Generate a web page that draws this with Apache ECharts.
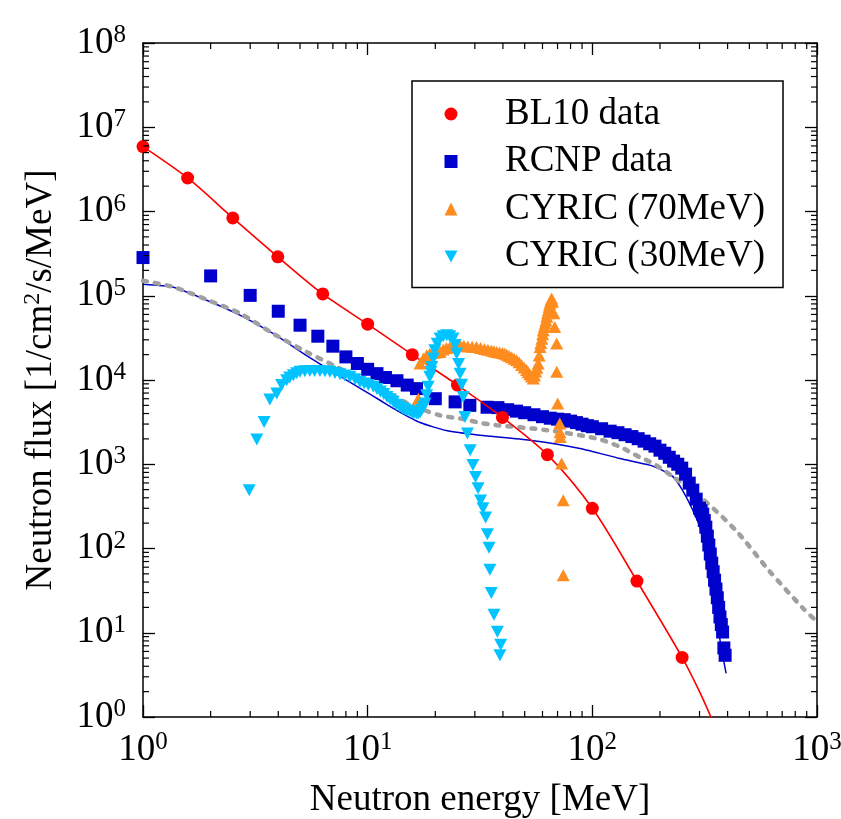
<!DOCTYPE html>
<html>
<head>
<meta charset="utf-8">
<script src="https://cdn.jsdelivr.net/npm/echarts@6/dist/echarts.min.js"></script>
<style>
  html, body { margin: 0; padding: 0; background: #ffffff; }
  #chart { width: 841px; height: 819px; }
</style>
</head>
<body>
<div id="chart"></div>
<script>
// ---- Measured spectra (energy in MeV, flux in 1/cm^2/s/MeV) ----
const bl10Energy = [1, 1.58, 2.51, 3.98, 6.31, 10, 15.8, 25.1, 39.8, 63.1, 100, 158, 251];
const bl10Flux   = [5.9e6, 2.5e6, 8.4e5, 2.9e5, 1.05e5, 4.6e4, 2.0e4, 8.7e3, 3.6e3, 1.3e3, 300, 41, 5.1];

// fitted curve through the BL10 points, running on to the lower edge
const bl10FitEnergy = [1, 1.58, 2.51, 3.98, 6.31, 10, 15.8, 25.1, 39.8, 63.1, 100, 158, 251, 300, 340];
const bl10FitFlux   = [5.9e6, 2.5e6, 8.4e5, 2.9e5, 1.05e5, 4.6e4, 2.0e4, 8.7e3, 3.6e3, 1.3e3, 300, 41, 5.1, 2.0, 0.95];

const rcnpEnergy = [1, 2, 3, 4, 5, 6, 7, 8, 9, 10, 11, 12, 13.5, 15, 16.5, 20, 24.5, 28.5, 34, 38,
  42, 46, 50, 55, 60, 65, 70, 75, 80, 85, 90, 95, 100, 110, 120, 130, 140, 150, 160, 170, 180, 190,
  200, 210, 220, 230, 240, 250, 260, 270, 280, 290, 300, 305, 310, 315, 320, 325, 330, 335, 340, 345,
  350, 355, 360, 365, 370, 375, 380, 385, 390];
const rcnpFlux = [2.84e5, 1.72e5, 1.01e5, 6.55e4, 4.47e4, 3.31e4, 2.52e4, 1.88e4, 1.57e4, 1.34e4, 1.19e4,
  1.07e4, 9.8e3, 8.7e3, 7.9e3, 6.0e3, 5.5e3, 5.0e3, 4.75e3, 4.7e3,
  4.44e3, 4.27e3, 4.09e3, 3.87e3, 3.67e3, 3.52e3, 3.43e3, 3.38e3, 3.25e3, 3.12e3, 2.99e3, 2.87e3, 2.79e3,
  2.64e3, 2.47e3, 2.37e3, 2.24e3, 2.13e3, 2.01e3, 1.88e3, 1.75e3, 1.64e3,
  1.47e3, 1.35e3, 1.21e3, 1.09e3, 1.0e3, 900, 763, 597, 493, 385, 301, 280, 256, 215, 179, 140, 110, 86, 67, 53,
  42, 33, 26, 20, 15.4, 12.5, 10.2, 6.6, 5.4];

const cyric70Energy = [16.8, 17.1, 17.7, 18.3, 18.9, 19.5, 20.2, 21.0, 21.7, 22.4, 23.2, 24.0, 24.9, 25.8,
  26.8, 27.9, 29.2, 30.5, 31.8, 33.1, 34.3, 35.5, 36.5, 37.5, 38.6, 39.8, 40.7, 41.6, 42.6, 43.7, 44.8,
  46.0, 47.2, 48.4, 49.7, 51.0, 51.8, 52.7, 53.6, 54.6, 55.3, 56.0, 56.7, 57.4, 58.0, 58.5, 59.0, 59.6,
  60.1, 60.5, 61.1, 61.7, 62.2, 62.7, 63.2, 63.7, 64.2, 64.7, 65.3, 65.9, 66.5, 67.4, 68.0, 69.4, 69.4,
  70.1, 71.6, 71.8, 72.0, 73.0, 74.2, 74.2];
const cyric70Flux = [6.0e3, 1.57e4, 1.8e4, 1.97e4, 2.05e4, 2.09e4, 2.12e4, 2.15e4, 2.3e4, 2.4e4, 2.45e4, 2.5e4,
  2.55e4, 2.59e4, 2.55e4, 2.5e4, 2.48e4, 2.47e4, 2.4e4, 2.34e4, 2.29e4, 2.24e4, 2.2e4, 2.15e4, 2.12e4, 2.09e4,
  2.05e4, 2.0e4, 1.93e4, 1.86e4, 1.79e4, 1.72e4, 1.62e4, 1.51e4, 1.41e4, 1.31e4, 1.24e4, 1.17e4, 1.1e4, 1.04e4,
  1.13e4, 1.26e4, 1.4e4, 1.57e4, 1.95e4, 2.47e4, 2.75e4, 3.09e4, 3.5e4, 3.89e4, 4.3e4, 4.68e4, 5.1e4, 5.62e4,
  6.2e4, 6.76e4, 7.4e4, 8.07e4, 8.7e4, 9.27e4, 8.5e4, 6.2e4, 4.27e4, 2.71e4, 1.25e4,
  5.25e3, 3.05e3, 2.4e3, 2.1e3, 1.02e3, 375, 48];

const cyric30Energy = [2.97, 3.21, 3.46, 3.67, 3.94, 4.14, 4.36, 4.5, 4.67, 4.83, 5.0, 5.25, 5.53, 5.8, 6.13,
  6.45, 6.79, 7.15, 7.53, 7.9, 8.34, 8.8, 9.24, 9.65, 10.07, 10.6, 11.0, 11.4, 11.8, 12.2, 12.6, 13.0, 13.4,
  13.9, 14.3, 14.6, 15.0, 15.4, 15.8, 16.1, 16.5, 16.8, 17.1, 17.4, 17.7, 18.0, 18.3, 18.6, 18.9, 19.1, 19.3,
  19.6, 19.9, 20.4, 21.0, 21.7, 22.5, 23.2, 24.0, 24.5, 24.9, 25.4, 25.8, 26.2, 26.6, 27.1, 27.8, 28.6, 29.4,
  30.2, 31.0, 31.8, 32.6, 33.5, 34.1, 34.7, 35.0, 35.5, 36.5, 37.8, 39.1, 38.8];
const cyric30Flux = [493, 1970, 3180, 5870, 6900, 8700, 9950, 1.07e4, 1.14e4, 1.2e4, 1.25e4, 1.27e4, 1.28e4,
  1.28e4, 1.28e4, 1.27e4, 1.25e4, 1.21e4, 1.17e4, 1.13e4, 1.09e4, 1.02e4, 9.5e3, 9.1e3, 8.7e3, 8.3e3, 7.8e3,
  7.3e3, 6.8e3, 6.3e3, 5.9e3, 5.5e3, 5.1e3, 4.8e3, 4.6e3, 4.5e3, 4.35e3, 4.2e3, 4.1e3, 4.05e3, 4.0e3, 4.0e3,
  4.1e3, 4.4e3, 4.8e3, 5.25e3, 6.6e3, 8.3e3, 1.09e4, 1.25e4, 1.43e4, 1.8e4, 2.26e4, 2.7e4, 3.1e4, 3.3e4,
  3.4e4, 3.3e4, 3.1e4, 2.6e4, 2.06e4, 1.55e4, 1.19e4, 8.8e3, 6.3e3, 3.65e3, 2.32e3, 1.47e3, 977,
  708, 520, 372, 300, 234, 148, 102, 56, 29.7, 16.4, 10.3, 7.2, 5.4];

// calculated spectra
const calcBlueEnergy = [1, 1.365, 1.92, 2.70, 3.80, 5.35, 6.79, 9.55, 11.35, 13.46, 17.1, 22.4, 31.6, 52.7,
  88.1, 132.7, 180, 204, 229, 251, 275, 301, 331, 355, 370, 394];
const calcBlueFlux = [1.37e5, 1.26e5, 8.85e4, 5.89e4, 3.55e4, 1.95e4, 1.31e4, 7.59e3, 5.75e3, 4.37e3, 3.13e3,
  2.51e3, 2.21e3, 1.93e3, 1.54e3, 1.17e3, 977, 851, 708, 501, 316, 181, 70.8, 26.9, 8.2, 3.3];

const calcGrayEnergy = [1, 1.365, 1.92, 2.70, 3.80, 5.35, 7.28, 10.2, 13.5, 15.4, 21.0, 25.8, 32.7, 37.5, 62.7,
  104.5, 132.7, 162, 187, 229, 309, 437, 615, 867, 1000];
const calcGrayFlux = [1.51e5, 1.27e5, 9.0e4, 6.17e4, 3.55e4, 2.15e4, 1.43e4, 9.08e3, 6.2e3, 5.1e3, 3.8e3, 3.49e3,
  3.05e3, 2.91e3, 2.54e3, 2.02e3, 1.61e3, 1.22e3, 1.02e3, 708, 390, 162, 53.7, 19.5, 13.5];

// ---- axes ----
const xTickExponents = [0, 1, 2, 3];
const yTickExponents = [0, 1, 2, 3, 4, 5, 6, 7, 8];
const xName = 'Neutron energy [MeV]';
const yNameParts = ['Neutron flux [1/cm', '2', '/s/MeV]'];

const FONT = 'Liberation Serif, Times New Roman, serif';
const pairs = (xs, ys) => xs.map((x, i) => [x, ys[i]]);

// minor tick positions (2..9 within each decade)
function minorTicks(expList) {
  const out = [];
  for (let k = 0; k < expList.length - 1; k++) {
    const base = Math.pow(10, expList[k]);
    for (let m = 2; m <= 9; m++) out.push(m * base);
  }
  return out;
}
const xMinor = minorTicks(xTickExponents);
const yMinor = minorTicks(yTickExponents);

const labelRich = {
  b: { fontFamily: FONT, fontSize: 37, color: '#000', lineHeight: 40 },
  s: { fontFamily: FONT, fontSize: 25, color: '#000', lineHeight: 25, verticalAlign: 'top' }
};
function powLabel(expList) {
  return function (v) {
    const e = Math.round(Math.log10(v));
    if (expList.indexOf(e) < 0) return '';
    return '{b|10}{s|' + e + '}';
  };
}

const xMin = Math.pow(10, xTickExponents[0]);
const xMax = Math.pow(10, xTickExponents[xTickExponents.length - 1]);
const yMin = Math.pow(10, yTickExponents[0]);
const yMax = Math.pow(10, yTickExponents[yTickExponents.length - 1]);

function logAxis(pos, min, max, split, showLabel, expList, extra) {
  return Object.assign({
    type: 'log', logBase: 10, position: pos, min: min, max: max, splitNumber: split,
    axisLine: { show: true, onZero: false, lineStyle: { color: '#000', width: 1.5 } },
    axisTick: { show: true, inside: true, length: 12, lineStyle: { color: '#000', width: 1.3 } },
    splitLine: { show: false },
    minorTick: { show: false },
    axisLabel: showLabel ? { show: true, formatter: powLabel(expList), rich: labelRich, hideOverlap: false,
      showMinLabel: true, showMaxLabel: true } : { show: false }
  }, extra || {});
}

// downward-pointing triangle for the 30 MeV legend entry
const DOWN_TRIANGLE = 'path://M0,0 L12,0 L6,11 Z';

const chart = echarts.init(document.getElementById('chart'), null, { renderer: 'canvas' });

const option = {
  backgroundColor: '#ffffff',
  animation: false,
  grid: { left: 143, right: 24, top: 43, bottom: 102, outerBoundsMode: 'none', containLabel: false },
  legend: {
    data: [
      { name: 'BL10 data' },
      { name: 'RCNP data' },
      { name: 'CYRIC (70MeV)' },
      { name: 'CYRIC (30MeV)', icon: DOWN_TRIANGLE }
    ],
    orient: 'vertical',
    left: 412, top: 81,
    padding: [13, 18, 11, 32.5],
    itemWidth: 13, itemHeight: 13, itemGap: 7.5,
    backgroundColor: '#ffffff', borderColor: '#000', borderWidth: 1.5, borderRadius: 0,
    selectedMode: false,
    itemStyle: { opacity: 1 },
    textStyle: { fontFamily: FONT, fontSize: 37, color: '#000', lineHeight: 40, padding: [0, 0, 0, 42.5] }
  },
  xAxis: [
    logAxis('bottom', xMin, xMax, 3, true, xTickExponents, {
      name: xName, nameLocation: 'middle', nameGap: 65,
      nameTextStyle: { fontFamily: FONT, fontSize: 37, color: '#000' },
      axisLabel: { show: true, formatter: powLabel(xTickExponents), rich: labelRich, margin: 13,
        hideOverlap: false, showMinLabel: true, showMaxLabel: true }
    }),
    logAxis('top', xMin, xMax, 3, false, xTickExponents)
  ],
  yAxis: [
    logAxis('left', yMin, yMax, 8, true, yTickExponents, {
      name: '{a|' + yNameParts[0] + '}{s|' + yNameParts[1] + '}{a|' + yNameParts[2] + '}',
      nameLocation: 'middle', nameRotate: 90, nameGap: 82,
      nameTextStyle: { rich: {
        a: { fontFamily: FONT, fontSize: 37, color: '#000', lineHeight: 40 },
        s: { fontFamily: FONT, fontSize: 24, color: '#000', lineHeight: 24, verticalAlign: 'top' }
      } },
      axisLabel: { show: true, formatter: powLabel(yTickExponents), rich: labelRich, margin: 17,
        hideOverlap: false, showMinLabel: true, showMaxLabel: true }
    }),
    logAxis('right', yMin, yMax, 8, false, yTickExponents)
  ],
  series: [
    {
      name: 'calc-blue', type: 'line', xAxisIndex: 0, yAxisIndex: 0,
      data: pairs(calcBlueEnergy, calcBlueFlux), showSymbol: false, symbol: 'none', smooth: 0.2,
      lineStyle: { color: '#0000cc', width: 1.5 }, silent: true, z: 2
    },
    {
      name: 'calc-gray', type: 'line', xAxisIndex: 0, yAxisIndex: 0,
      data: pairs(calcGrayEnergy, calcGrayFlux), showSymbol: false, symbol: 'none', smooth: 0.25,
      lineStyle: { color: '#a0a0a0', width: 4.5, type: [4, 8], cap: 'round' }, silent: true, z: 2
    },
    {
      name: 'RCNP data', type: 'scatter', data: pairs(rcnpEnergy, rcnpFlux),
      symbol: 'rect', symbolSize: 13, itemStyle: { color: '#0000cc', opacity: 1 }, z: 3
    },
    {
      name: 'BL10 fit', type: 'line', data: pairs(bl10FitEnergy, bl10FitFlux),
      showSymbol: false, symbol: 'none', smooth: 0.3, clip: true,
      lineStyle: { color: '#ff0000', width: 1.6 }, silent: true, z: 4
    },
    {
      name: 'BL10 data', type: 'scatter', data: pairs(bl10Energy, bl10Flux),
      symbol: 'circle', symbolSize: 13, itemStyle: { color: '#ff0000', opacity: 1 }, z: 5
    },
    {
      name: 'CYRIC (70MeV)', type: 'scatter', data: pairs(cyric70Energy, cyric70Flux),
      symbol: 'triangle', symbolSize: [13, 12], itemStyle: { color: '#ff8c1e', opacity: 1 }, z: 6
    },
    {
      name: 'CYRIC (30MeV)', type: 'scatter', data: pairs(cyric30Energy, cyric30Flux),
      symbol: 'triangle', symbolRotate: 180, symbolSize: [13, 12], itemStyle: { color: '#00c3ff', opacity: 1 }, z: 7
    },
    {
      // minor ticks on all four sides of the frame
      name: 'minor-ticks', type: 'custom', coordinateSystem: 'cartesian2d', silent: true, z: 8,
      data: [[1, 1]],
      renderItem: function (params, api) {
        const cs = params.coordSys;
        const L = cs.x, R = cs.x + cs.width, T = cs.y, B = cs.y + cs.height;
        const st = { stroke: '#000', lineWidth: 1.2 };
        const kids = [];
        xMinor.forEach(function (v) {
          const px = api.coord([v, yMin])[0];
          kids.push({ type: 'line', shape: { x1: px, y1: B, x2: px, y2: B - 6 }, style: st });
          kids.push({ type: 'line', shape: { x1: px, y1: T, x2: px, y2: T + 6 }, style: st });
        });
        yMinor.forEach(function (v) {
          const py = api.coord([xMin, v])[1];
          kids.push({ type: 'line', shape: { x1: L, y1: py, x2: L + 6, y2: py }, style: st });
          kids.push({ type: 'line', shape: { x1: R, y1: py, x2: R - 6, y2: py }, style: st });
        });
        return { type: 'group', children: kids };
      }
    }
  ]
};

chart.setOption(option);
</script>
</body>
</html>
